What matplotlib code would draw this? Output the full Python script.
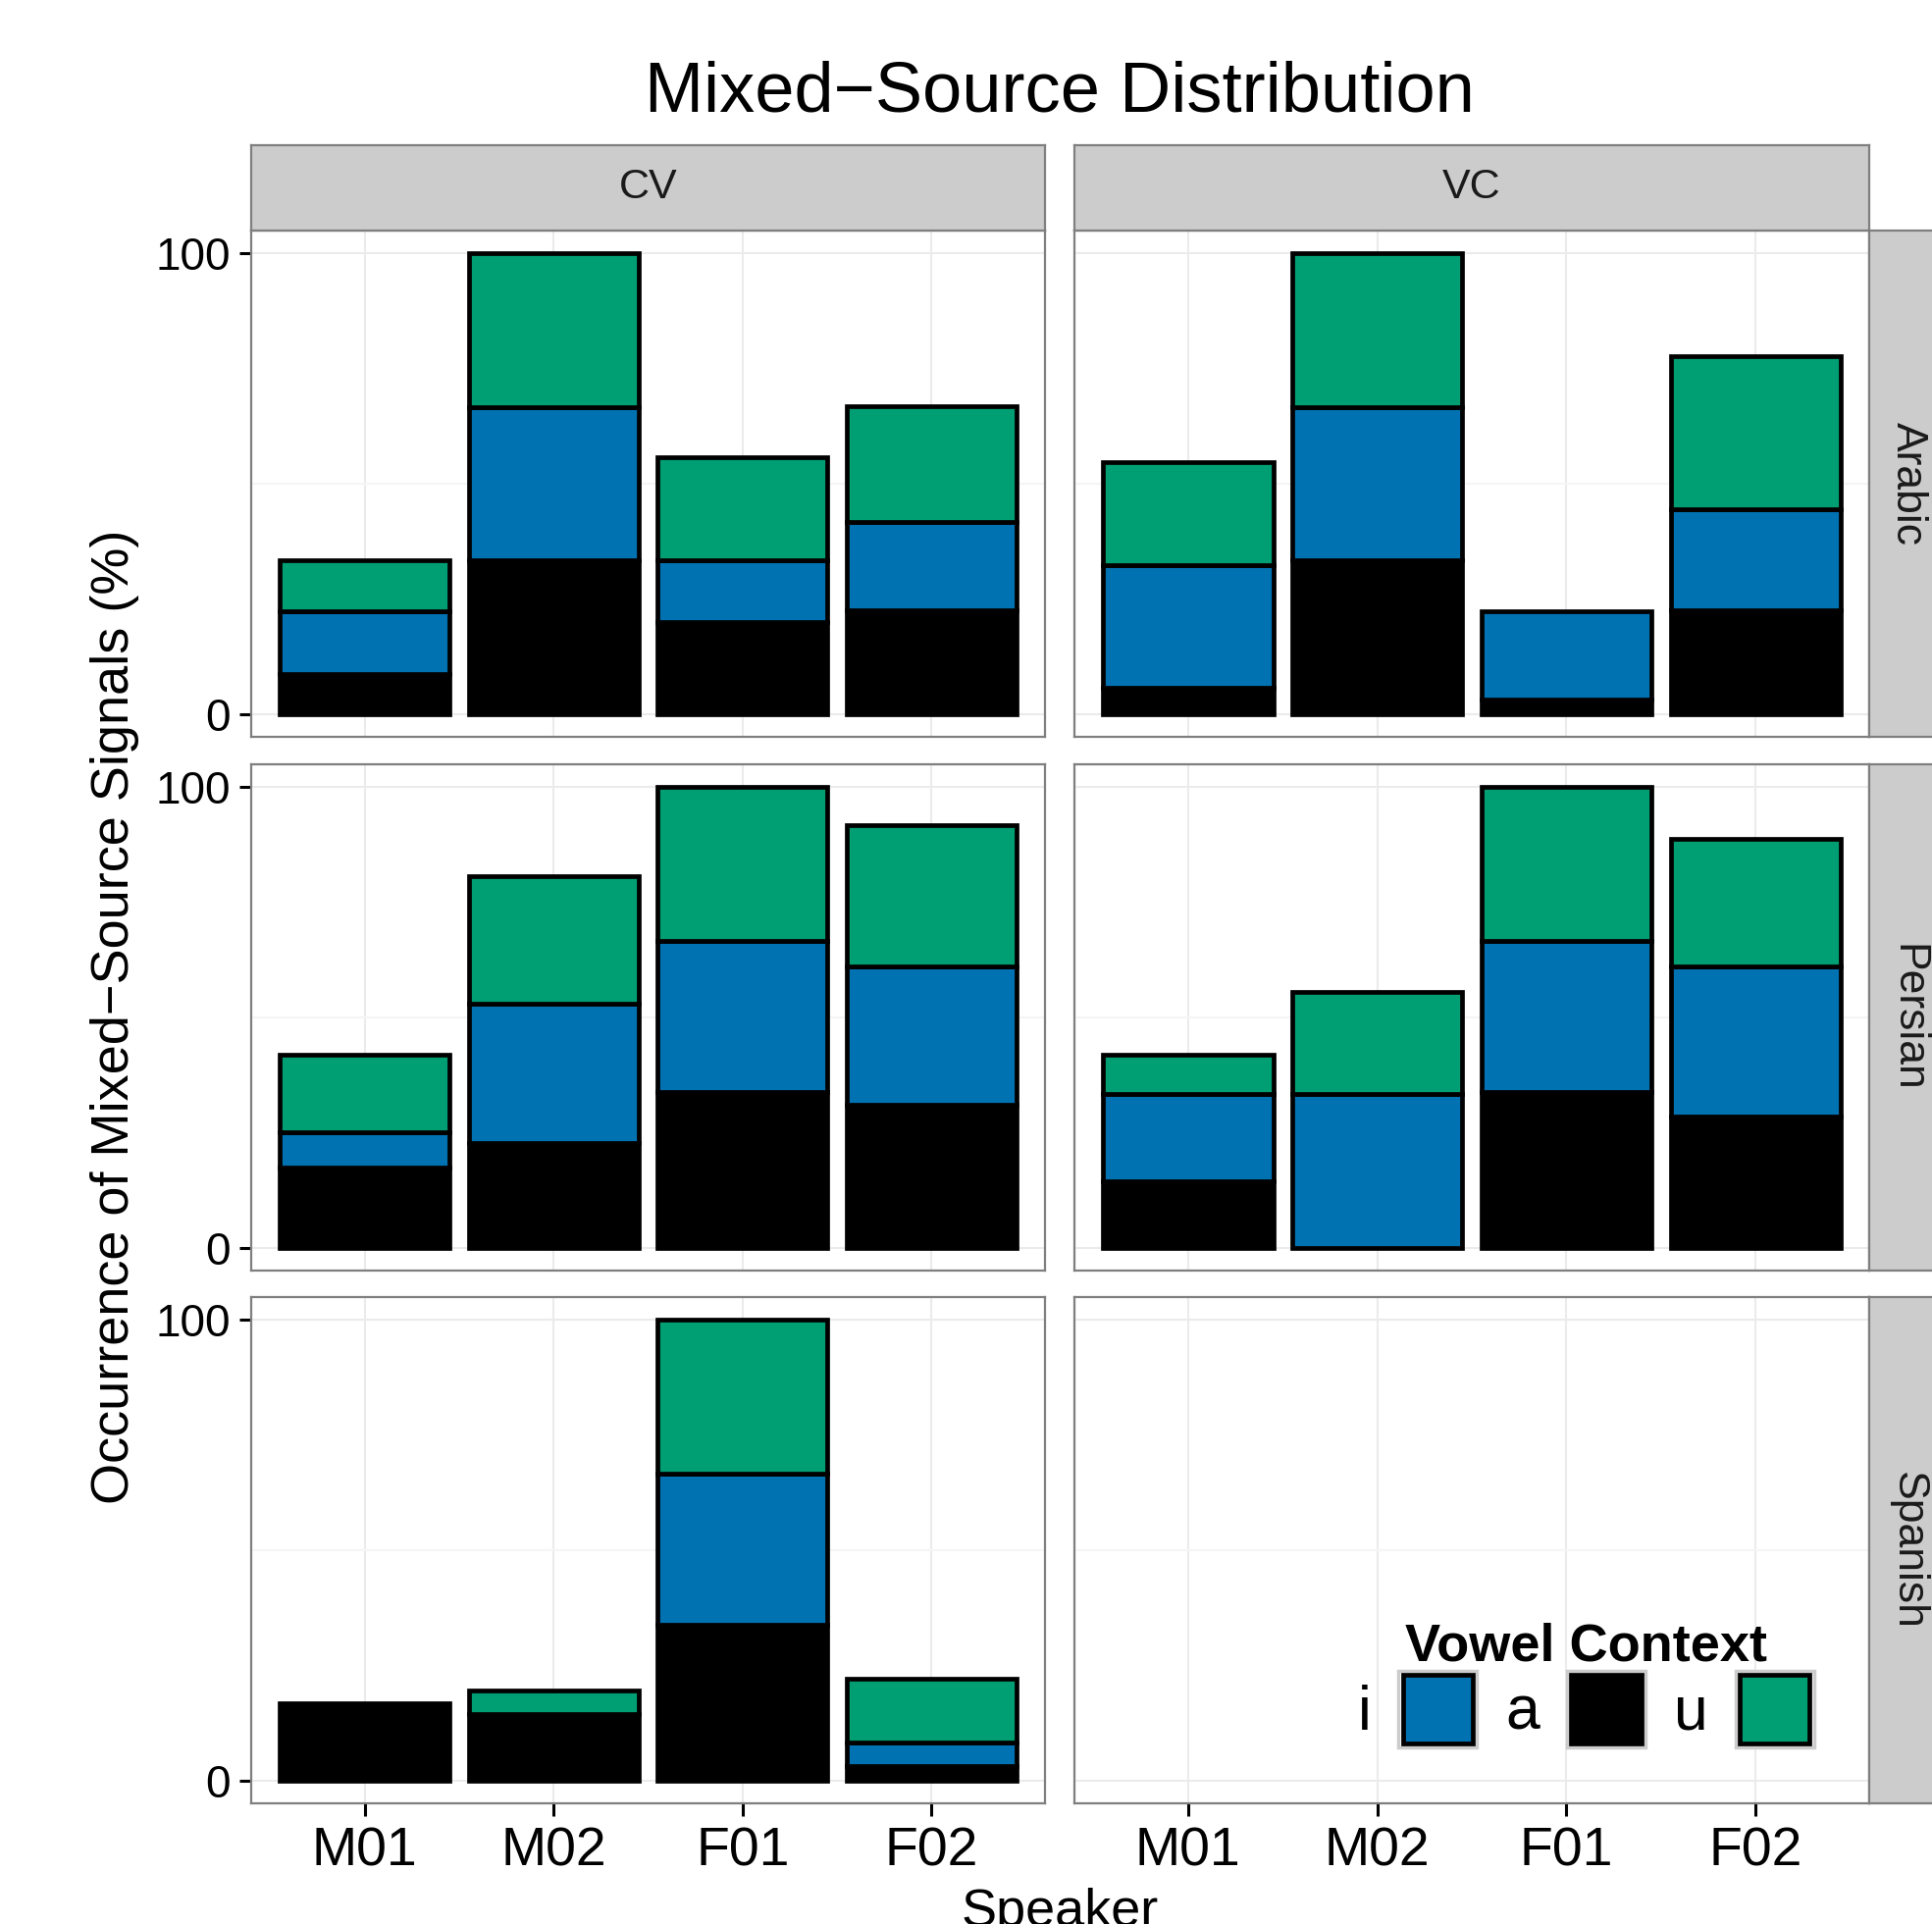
import matplotlib.pyplot as plt
import numpy as np
from matplotlib.patches import Rectangle
from matplotlib.legend_handler import HandlerPatch

plt.rcParams['font.family'] = ['Liberation Sans', 'DejaVu Sans']

# data: percent of mixed-source signals, stacked a (bottom), i, u (top)
speakers = ['M01', 'M02', 'F01', 'F02']
contexts = ['CV', 'VC']
languages = ['Arabic', 'Persian', 'Spanish']
vowels = ['i', 'a', 'u']
vowel_colors = {'i': '#0072B2', 'a': '#000000', 'u': '#009E73'}
stack_order = ['a', 'i', 'u']

cv_arabic_a = [8.7, 33.3, 20.0, 22.5]
cv_arabic_i = [13.5, 33.3, 13.4, 19.2]
cv_arabic_u = [11.2, 33.4, 22.3, 25.1]

vc_arabic_a = [5.6, 33.3, 3.0, 22.5]
vc_arabic_i = [26.7, 33.3, 19.2, 21.9]
vc_arabic_u = [22.4, 33.4, 0.0, 33.4]

cv_persian_a = [17.3, 22.8, 33.8, 31.1]
cv_persian_i = [7.8, 30.1, 32.9, 30.0]
cv_persian_u = [16.7, 27.7, 33.3, 30.6]

vc_persian_a = [14.4, 0.0, 33.8, 28.4]
vc_persian_i = [18.9, 33.3, 32.9, 32.7]
vc_persian_u = [8.5, 22.3, 33.3, 27.8]

cv_spanish_a = [16.8, 14.4, 33.8, 3.0]
cv_spanish_i = [0.0, 0.0, 32.9, 5.3]
cv_spanish_u = [0.0, 5.1, 33.3, 13.8]

vc_spanish_a = [0.0, 0.0, 0.0, 0.0]
vc_spanish_i = [0.0, 0.0, 0.0, 0.0]
vc_spanish_u = [0.0, 0.0, 0.0, 0.0]

data = {
    ('CV', 'Arabic'): {'a': cv_arabic_a, 'i': cv_arabic_i, 'u': cv_arabic_u},
    ('VC', 'Arabic'): {'a': vc_arabic_a, 'i': vc_arabic_i, 'u': vc_arabic_u},
    ('CV', 'Persian'): {'a': cv_persian_a, 'i': cv_persian_i, 'u': cv_persian_u},
    ('VC', 'Persian'): {'a': vc_persian_a, 'i': vc_persian_i, 'u': vc_persian_u},
    ('CV', 'Spanish'): {'a': cv_spanish_a, 'i': cv_spanish_i, 'u': cv_spanish_u},
    ('VC', 'Spanish'): {'a': vc_spanish_a, 'i': vc_spanish_i, 'u': vc_spanish_u},
}

W, H = 1969, 1961
fig = plt.figure(figsize=(W / 100, H / 100), dpi=100)


def px_axes(x0, y0, x1, y1):
    return fig.add_axes([x0 / W, 1 - y1 / H, (x1 - x0) / W, (y1 - y0) / H])


col_px = {'CV': (256, 1065), 'VC': (1095, 1905)}
row_px = {'Arabic': (235, 751), 'Persian': (779, 1295), 'Spanish': (1322, 1838)}
border = '#7F7F7F'
bar_lw = 3.4

for c, ctx in enumerate(contexts):
    for r, lang in enumerate(languages):
        x0, x1 = col_px[ctx]
        y0, y1 = row_px[lang]
        ax = px_axes(x0, y0, x1, y1)
        x = np.arange(len(speakers))
        bottom = np.zeros(len(speakers))
        for v in stack_order:
            vals = np.array(data[(ctx, lang)][v])
            keep = vals > 0
            ax.bar(x[keep], vals[keep], bottom=bottom[keep], width=0.9,
                   color=vowel_colors[v], edgecolor='black', linewidth=bar_lw, zorder=3)
            bottom += vals
        ax.set_xlim(-0.6, 3.6)
        ax.set_ylim(-5, 105)
        ax.set_xticks(x)
        ax.set_yticks([0, 100])
        ax.set_yticks([50], minor=True)
        ax.grid(which='major', color='#EBEBEB', linewidth=1.5, zorder=0)
        ax.grid(which='minor', axis='y', color='#F5F5F5', linewidth=1.5, zorder=0)
        ax.set_axisbelow(True)
        for s in ax.spines.values():
            s.set_color(border)
            s.set_linewidth(1.6)
        ax.tick_params(which='minor', length=0)
        ax.tick_params(axis='both', which='major', length=9, width=2.2, color='black')
        if r == len(languages) - 1:
            ax.set_xticklabels(speakers, fontsize=40)
            ax.tick_params(axis='x', pad=8)
        else:
            ax.set_xticklabels([])
            ax.tick_params(axis='x', length=0)
        if c == 0:
            ax.set_yticklabels(['0', '100'], fontsize=33)
            ax.tick_params(axis='y', pad=6)
        else:
            ax.set_yticklabels([])
            ax.tick_params(axis='y', length=0)

# strips
for ctx in contexts:
    x0, x1 = col_px[ctx]
    s = px_axes(x0, 148, x1, 235)
    s.set_facecolor('#CCCCCC')
    s.set_xticks([]); s.set_yticks([])
    for sp in s.spines.values():
        sp.set_color(border); sp.set_linewidth(1.6)
    s.text(0.5, 0.5, ctx, ha='center', va='center', fontsize=31, color='#1A1A1A',
           transform=s.transAxes)

for lang in languages:
    y0, y1 = row_px[lang]
    s = px_axes(1905, y0, 1983, y1)
    s.set_facecolor('#CCCCCC')
    s.set_xticks([]); s.set_yticks([])
    for sp in s.spines.values():
        sp.set_color(border); sp.set_linewidth(1.6)
    s.text(0.5, 0.5, lang, ha='center', va='center', fontsize=32, color='#1A1A1A',
           rotation=-90, transform=s.transAxes)

fig.text(1080 / W, 1 - 95 / H, 'Mixed\u2212Source Distribution', ha='center', va='center',
         fontsize=52)
fig.text(117 / W, 1 - 1036 / H, 'Occurrence of Mixed\u2212Source Signals (%)', ha='center',
         va='center', rotation=90, fontsize=39)
fig.text(1080 / W, 1 - 1924 / H, 'Speaker', ha='center', va='top', fontsize=39)


class KeyHandler(HandlerPatch):
    def create_artists(self, legend, orig_handle, xdescent, ydescent, width, height,
                       fontsize, trans):
        bg = Rectangle((-xdescent, -ydescent), width, height, facecolor='white',
                       edgecolor='#CCCCCC', linewidth=2.5, transform=trans)
        p = 3
        fg = Rectangle((-xdescent + p, -ydescent + p), width - 2 * p, height - 2 * p,
                       facecolor=orig_handle.get_facecolor(), edgecolor='black',
                       linewidth=bar_lw, transform=trans)
        return [bg, fg]


handles = [Rectangle((0, 0), 1, 1, facecolor=vowel_colors[v]) for v in vowels]
leg = fig.legend(handles, vowels, title='Vowel Context', ncol=3, markerfirst=False,
                 frameon=False, fontsize=45, loc='center',
                 bbox_to_anchor=(1616 / W, 1 - 1717 / H),
                 handlelength=1.28, handleheight=1.53, handletextpad=0.45,
                 columnspacing=0.46, borderpad=0, labelspacing=0,
                 handler_map={Rectangle: KeyHandler()})
leg.get_title().set_fontsize(39)
leg.get_title().set_fontweight('bold')

fig.savefig('out.png', dpi=100)
